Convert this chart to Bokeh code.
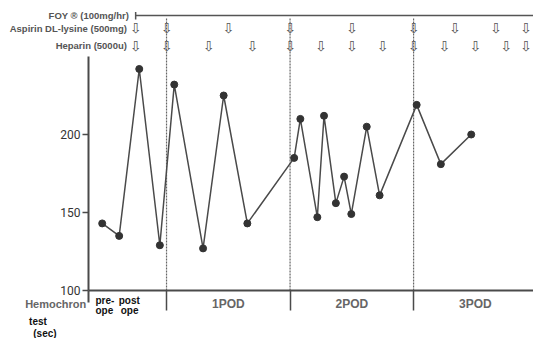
from bokeh.plotting import figure
from bokeh.models import Range1d, FixedTicker, Label, LinearAxis
from bokeh.core.properties import value
from bokeh.embed import file_html
from bokeh.resources import INLINE

# ---- data (x in hours from operation, y = Hemochron test in sec) ----
hours = [-12.5, -9.2, -5.3, -1.3, 1.5, 7.1, 11.1, 15.7, 24.8, 26.0,
         29.3, 30.6, 32.9, 34.5, 35.9, 38.9, 41.4, 48.6, 53.3, 59.2]
act_sec = [143, 135, 242, 129, 232, 127, 225, 143, 185, 210,
           147, 212, 156, 173, 149, 205, 161, 219, 181, 200]
aspirin_hours = [-6, 0, 12, 24, 36, 48, 56, 64, 69.8]
heparin_hours = [-6, 0, 8.2, 16.7, 24, 30, 36, 42, 48, 54, 60, 66, 69.8]
foy_start = -6
day_dividers = [0, 24, 48]
day_centers = [12, 36, 60]
day_labels = ["1POD", "2POD", "3POD"]
y_ticks = [100, 150, 200]

X_START = -15.16   # start of time axis (where the y axis stands)
X_END = 71.3
Y_MIN, Y_MAX = 100, 250
FOY_Y, ASP_Y, HEP_Y = 276.3, 268.2, 257.0   # rows of the medication strip

GRAY = "#4a4a4a"
ARROW = "#555555"

p = figure(width=533, height=338, output_backend="svg", toolbar_location=None,
           x_range=Range1d(-32.26, X_END), y_range=Range1d(69.23, 285.9),
           x_axis_location=None, y_axis_location=None,
           min_border_left=0, min_border_right=0, min_border_top=0,
           min_border_bottom=0, outline_line_color=None)
p.grid.visible = False

# y axis
ya = LinearAxis(fixed_location=X_START, bounds=(Y_MIN, Y_MAX),
                ticker=FixedTicker(ticks=y_ticks, minor_ticks=[]))
ya.axis_line_width = 2
ya.axis_line_color = GRAY
ya.major_tick_line_color = GRAY
ya.major_tick_line_width = 1.5
ya.major_tick_out = 6
ya.major_tick_in = 0
ya.minor_tick_line_color = None
ya.major_label_standoff = 2
ya.major_label_text_font = "Roboto"
ya.major_label_text_font_size = "12px"
ya.major_label_text_color = "#333333"
p.add_layout(ya, "left")

# x axis: day dividers as long ticks
xa = LinearAxis(fixed_location=Y_MIN, bounds=(X_START, X_END),
                ticker=FixedTicker(ticks=day_dividers, minor_ticks=[X_START]))
xa.axis_line_width = 2
xa.axis_line_color = GRAY
xa.major_tick_line_color = GRAY
xa.major_tick_line_width = 1.5
xa.major_tick_out = 20
xa.major_tick_in = 0
xa.minor_tick_line_color = GRAY
xa.minor_tick_line_width = 2
xa.minor_tick_out = 12
xa.minor_tick_in = 0
xa.major_label_overrides = {d: "" for d in day_dividers}
xa.major_label_text_font_size = "1px"
p.add_layout(xa, "below")

# dashed day dividers
p.segment(x0=day_dividers, y0=[Y_MIN] * 3, x1=day_dividers, y1=[275] * 3,
          line_color="#666666", line_width=1.2, line_dash="2 1")

# FOY infusion line
p.segment(x0=[foy_start], y0=[FOY_Y], x1=[X_END], y1=[FOY_Y],
          line_color=ARROW, line_width=1.5)
p.segment(x0=[foy_start], y0=[FOY_Y + 2.2], x1=[foy_start], y1=[FOY_Y - 2.5],
          line_color=ARROW, line_width=1.5)

# hollow down arrows
arrow_kw = dict(text_font=value("DejaVu Sans"), text_font_size=value("14px"),
                text_align="center", text_baseline="middle", text_color=ARROW)
p.text(x=aspirin_hours, y=[ASP_Y] * len(aspirin_hours),
       text=["\u21e9"] * len(aspirin_hours), **arrow_kw)
p.text(x=heparin_hours, y=[HEP_Y] * len(heparin_hours),
       text=["\u21e9"] * len(heparin_hours), **arrow_kw)

# data
p.line(hours, act_sec, line_color=GRAY, line_width=1.5)
p.scatter(hours, act_sec, size=7, fill_color="#333333", line_color="#333333")

def lab(x, y, t, align="right", size="9px", color="#444444", style="bold",
        font="Liberation Sans"):
    p.add_layout(Label(x=x, y=y, text=t, text_align=align, text_baseline="middle",
                       text_font=font, text_font_size=size, text_font_style=style,
                       text_color=color))

lab(-7.3, FOY_Y, "FOY \u00ae (100mg/hr)", size="9.5px", color="#555555")
lab(-7.7, ASP_Y, "Aspirin DL-lysine (500mg)", size="9.5px", color="#555555")
lab(-7.7, HEP_Y, "Heparin (5000u)", size="9.5px", color="#555555")

lab(-15.6, 91.6, "Hemochron", size="11px", color="#666666")
lab(-26.7, 80.0, "test", align="left", size="10px", color="#111111")
lab(-25.9, 72.5, "(sec)", align="left", size="10px", color="#111111")

lab(-13.8, 93.6, "pre-", align="left", size="10px", color="#111111")
lab(-13.8, 87.2, "ope", align="left", size="10px", color="#111111")
lab(-9.3, 93.6, "post", align="left", size="10px", color="#111111")
lab(-8.9, 87.2, "ope", align="left", size="10px", color="#111111")

for c, t in zip(day_centers, day_labels):
    lab(c, 91.6, t, align="center", size="12px", color="#666666")

open("out.html", "w").write(file_html(p, INLINE))
